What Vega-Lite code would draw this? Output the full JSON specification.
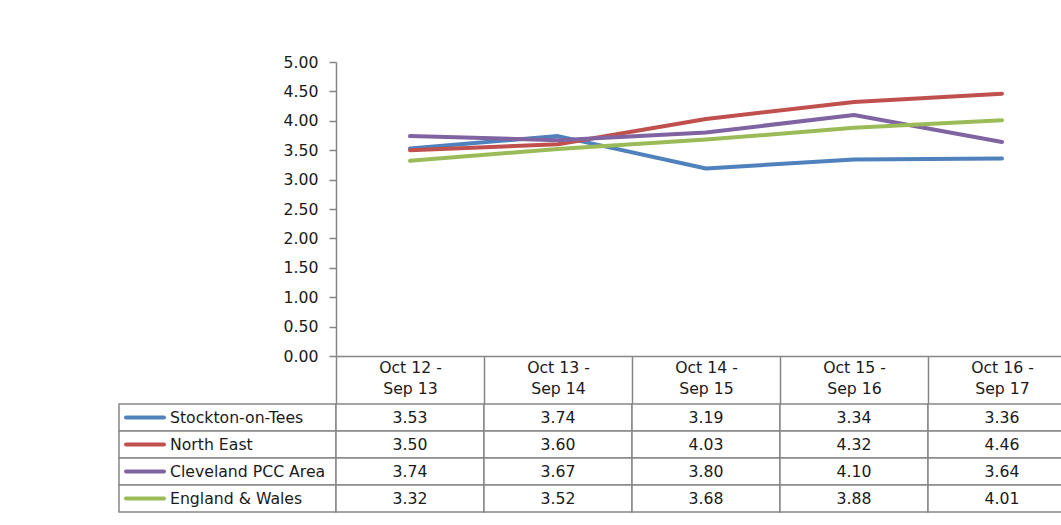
{
  "$schema": "https://vega.github.io/schema/vega-lite/v6.json",
  "padding": {"left": 118, "top": 54, "right": 0, "bottom": 5},
  "background": "white",
  "config": {"view": {"stroke": null}, "font": "DejaVu Sans", "text": {"font": "DejaVu Sans"}},
  "datasets": {
    "table": [
      {"period": "Oct 12 - Sep 13", "series": "Stockton-on-Tees", "value": 3.53},
      {"period": "Oct 13 - Sep 14", "series": "Stockton-on-Tees", "value": 3.74},
      {"period": "Oct 14 - Sep 15", "series": "Stockton-on-Tees", "value": 3.19},
      {"period": "Oct 15 - Sep 16", "series": "Stockton-on-Tees", "value": 3.34},
      {"period": "Oct 16 - Sep 17", "series": "Stockton-on-Tees", "value": 3.36},
      {"period": "Oct 12 - Sep 13", "series": "North East", "value": 3.50},
      {"period": "Oct 13 - Sep 14", "series": "North East", "value": 3.60},
      {"period": "Oct 14 - Sep 15", "series": "North East", "value": 4.03},
      {"period": "Oct 15 - Sep 16", "series": "North East", "value": 4.32},
      {"period": "Oct 16 - Sep 17", "series": "North East", "value": 4.46},
      {"period": "Oct 12 - Sep 13", "series": "Cleveland PCC Area", "value": 3.74},
      {"period": "Oct 13 - Sep 14", "series": "Cleveland PCC Area", "value": 3.67},
      {"period": "Oct 14 - Sep 15", "series": "Cleveland PCC Area", "value": 3.80},
      {"period": "Oct 15 - Sep 16", "series": "Cleveland PCC Area", "value": 4.10},
      {"period": "Oct 16 - Sep 17", "series": "Cleveland PCC Area", "value": 3.64},
      {"period": "Oct 12 - Sep 13", "series": "England & Wales", "value": 3.32},
      {"period": "Oct 13 - Sep 14", "series": "England & Wales", "value": 3.52},
      {"period": "Oct 14 - Sep 15", "series": "England & Wales", "value": 3.68},
      {"period": "Oct 15 - Sep 16", "series": "England & Wales", "value": 3.88},
      {"period": "Oct 16 - Sep 17", "series": "England & Wales", "value": 4.01}
    ]
  },
  "columns": 2,
  "bounds": "flush",
  "spacing": {"row": 48, "column": 0},
  "concat": [
    {
      "width": 217, "height": 294,
      "data": {"values": []},
      "mark": "point",
      "encoding": {}
    },
    {
      "width": 740, "height": 294,
      "data": {"name": "table"},
      "mark": {"type": "line", "strokeWidth": 4, "strokeCap": "round", "strokeJoin": "round"},
      "encoding": {
        "x": {
          "field": "period", "type": "nominal",
          "sort": ["Oct 12 - Sep 13", "Oct 13 - Sep 14", "Oct 14 - Sep 15", "Oct 15 - Sep 16", "Oct 16 - Sep 17"],
          "bandPosition": 0.5,
          "scale": {"type": "band", "paddingInner": 0, "paddingOuter": 0},
          "axis": {
            "title": null, "tickBand": "extent", "tickSize": 48, "tickColor": "#868686", "tickWidth": 1.5,
            "domainColor": "#868686", "domainWidth": 1.5, "labelAngle": 0,
            "labelExpr": "indexof(datum.value + '', ' - ') < 0 ? '' : [split(datum.value, ' - ')[0] + ' -', split(datum.value, ' - ')[1]]",
            "labelFontSize": 15.7, "labelColor": "#1a1a1a", "labelPadding": -44, "labelLineHeight": 21,
            "labelBaseline": "top", "labelFont": "DejaVu Sans"
          }
        },
        "y": {
          "field": "value", "type": "quantitative",
          "scale": {"domain": [0, 5], "nice": false},
          "axis": {
            "title": null, "values": [0, 0.5, 1, 1.5, 2, 2.5, 3, 3.5, 4, 4.5, 5], "format": ".2f",
            "grid": false, "tickSize": 7, "tickColor": "#868686", "tickWidth": 1.5,
            "domainColor": "#868686", "domainWidth": 1.5, "labelPadding": 11,
            "labelFontSize": 15.7, "labelColor": "#1a1a1a", "labelFont": "DejaVu Sans"
          }
        },
        "color": {
          "field": "series", "type": "nominal",
          "scale": {"domain": ["Stockton-on-Tees", "North East", "Cleveland PCC Area", "England & Wales"], "range": ["#4F81BD", "#C0504D", "#8064A2", "#9BBB59"]},
          "legend": null
        }
      }
    },
    {
      "width": 217, "height": 108,
      "data": {"name": "table"},
      "transform": [{"filter": "datum.period === 'Oct 12 - Sep 13'"}],
      "encoding": {
        "y": {
          "field": "series", "type": "nominal",
          "sort": ["Stockton-on-Tees", "North East", "Cleveland PCC Area", "England & Wales"],
          "scale": {"type": "band", "paddingInner": 0, "paddingOuter": 0},
          "axis": null
        }
      },
      "layer": [
        {"mark": {"type": "rect", "fill": "white", "stroke": "#868686", "strokeWidth": 1.5}},
        {
          "mark": {"type": "point", "shape": "M-1,0H1", "size": 1444, "strokeWidth": 4, "strokeCap": "round", "filled": false, "opacity": 1},
          "encoding": {
            "x": {"value": 26},
            "color": {
              "field": "series", "type": "nominal",
              "scale": {"domain": ["Stockton-on-Tees", "North East", "Cleveland PCC Area", "England & Wales"], "range": ["#4F81BD", "#C0504D", "#8064A2", "#9BBB59"]},
              "legend": null
            }
          }
        },
        {
          "mark": {"type": "text", "align": "left", "fontSize": 15.7, "color": "#1a1a1a", "font": "DejaVu Sans"},
          "encoding": {"x": {"value": 51}, "text": {"field": "series"}}
        }
      ]
    },
    {
      "width": 740, "height": 108,
      "data": {"name": "table"},
      "encoding": {
        "x": {
          "field": "period", "type": "nominal",
          "sort": ["Oct 12 - Sep 13", "Oct 13 - Sep 14", "Oct 14 - Sep 15", "Oct 15 - Sep 16", "Oct 16 - Sep 17"],
          "scale": {"type": "band", "paddingInner": 0, "paddingOuter": 0},
          "axis": null
        },
        "y": {
          "field": "series", "type": "nominal",
          "sort": ["Stockton-on-Tees", "North East", "Cleveland PCC Area", "England & Wales"],
          "scale": {"type": "band", "paddingInner": 0, "paddingOuter": 0},
          "axis": null
        }
      },
      "layer": [
        {"mark": {"type": "rect", "fill": "white", "stroke": "#868686", "strokeWidth": 1.5}},
        {
          "mark": {"type": "text", "fontSize": 15.7, "color": "#1a1a1a", "font": "DejaVu Sans"},
          "encoding": {"text": {"field": "value", "type": "quantitative", "format": ".2f"}}
        }
      ]
    }
  ]
}
